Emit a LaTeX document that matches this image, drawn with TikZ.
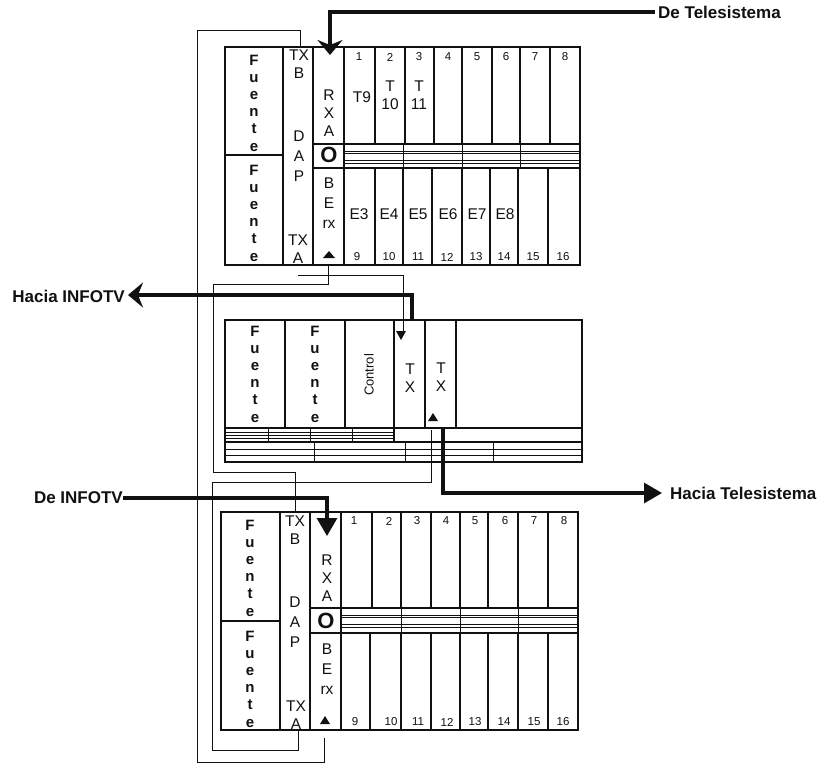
\documentclass[tikz,border=0pt]{standalone}
\usepackage{fontspec}
\setmainfont{Liberation Sans}
\usetikzlibrary{arrows.meta,calc}
\definecolor{ink}{HTML}{111111}
\tikzset{
  heavy/.style={draw=ink,line width=2.6pt},
  medium/.style={draw=ink,line width=1.6pt},
  bandline/.style={draw=ink,line width=.9pt},
  thin line/.style={draw=ink,line width=.8pt},
  feed/.style={draw=ink,line width=3.2pt},
  chevron/.style={-{Stealth[length=15pt,width=25pt,inset=5pt]}},
  solidhead/.style={-{Triangle[length=18pt,width=20pt]}},
  stacked/.style={font=\fontsize{15}{17.2}\selectfont\bfseries,align=center,inner sep=0pt,text=ink},
  lab/.style={font=\fontsize{15.5}{18}\selectfont,align=center,inner sep=0pt,text=ink},
  dapl/.style={font=\fontsize{15.5}{20}\selectfont,align=center,inner sep=0pt,text=ink},
  num/.style={font=\fontsize{11.5}{11.5}\selectfont,inner sep=0pt,text=ink},
  slot/.style={font=\fontsize{15.5}{18}\selectfont,align=center,inner sep=0pt,text=ink},
  outer/.style={font=\fontsize{17}{19}\selectfont\bfseries,inner sep=0pt,text=ink},
}
\newcommand{\fuente}{F\\u\\e\\n\\t\\e}
\begin{document}
\begin{tikzpicture}[x=1pt,y=-1pt]
\useasboundingbox (0,0) rectangle (818,763);
\fill[white] (0,0) rectangle (818,763);

% ---------- top rack
\draw[heavy] (225,47) rectangle (580,265);
\draw[medium] (225,155) -- (283,155);
\foreach \x in {283,313} \draw[heavy] (\x,47) -- (\x,265);
\draw[heavy] (344,47) -- (344,144);
\draw[heavy] (344,168) -- (344,265);
\foreach \x in {375,405,434,462,492,520,550} \draw[heavy] (\x,47) -- (\x,144);
\foreach \x in {375,403,432,462,490,518,548} \draw[heavy] (\x,168) -- (\x,265);
\draw[heavy] (313,144) -- (580,144);
\draw[heavy] (313,168) -- (580,168);
\draw[heavy] (344,144) -- (344,168);
\foreach \y in {151,153,160,163} \draw[bandline] (344,\y) -- (580,\y);
\foreach \x in {403,462,520} \draw[bandline] (\x,144) -- (\x,168);
\node[font=\fontsize{22}{22}\selectfont\bfseries,inner sep=0pt,text=ink] (ta) at (329,155) {O};

\node[stacked] (tf1) at (254,103) {\fuente};
\node[stacked] (tf2) at (254,213) {\fuente};
\node[lab] (ttxb) at (299,64) {TX\\B};
\node[dapl] (tdap) at (299,156) {D\\A\\P};
\node[lab] (ttxa) at (298,249) {TX\\A};
\node[lab] (trxa) at (329,113) {R\\X\\A};
\node[dapl] (tber) at (329,203) {B\\E\\rx};
\foreach \n/\x in {1/359,2/390,3/419,4/448,5/477,6/506,7/535,8/565}
  \node[num] at (\x,57) {\n};
\foreach \n/\x in {9/357,10/389,11/418,12/447,13/476,14/504,15/533,16/563}
  \node[num] at (\x,257) {\n};
\node[slot] (t9) at (362,97) {T9};
\node[slot] (t10) at (390,95) {T\\10};
\node[slot] (t11) at (419,95) {T\\11};
\foreach \t/\x in {E3/359,E4/389,E5/418,E6/448,E7/477,E8/505}
  \node[slot] at (\x,214) {\t};
\fill[ink] (329,251) -- (323,258) -- (335,258) -- cycle;

% ---------- middle rack
\draw[heavy] (225,320) rectangle (582,462);
\draw[heavy] (225,428) -- (582,428);
\foreach \x in {285,345,394,425,456} \draw[heavy] (\x,320) -- (\x,428);
\draw[medium] (394,428) -- (394,442);
\draw[medium] (225,442) -- (582,442);
\foreach \y in {432,435,438} \draw[bandline] (225,\y) -- (394,\y);
\foreach \x in {268,310,352} \draw[bandline] (\x,428) -- (\x,442);
\foreach \y in {449,455} \draw[bandline] (225,\y) -- (582,\y);
\foreach \x in {314,405,493} \draw[bandline] (\x,442) -- (\x,462);
\node[stacked] (mf1) at (255,374) {\fuente};
\node[stacked] (mf2) at (315,374) {\fuente};
\node[rotate=90,font=\fontsize{13}{13}\selectfont,inner sep=0pt,text=ink] (mc) at (369,375) {Control};
\node[lab] (mtx1) at (410,378) {T\\X};
\node[lab] (mtx2) at (441,377) {T\\X};
\fill[ink] (433,413) -- (428,421) -- (438,421) -- cycle;
\fill[ink] (401,340) -- (396,331) -- (406,331) -- cycle;

% ---------- bottom rack
\draw[heavy] (221,512) rectangle (578,730);
\draw[medium] (221,621) -- (280,621);
\foreach \x in {280,310} \draw[heavy] (\x,512) -- (\x,730);
\draw[heavy] (341,512) -- (341,608);
\draw[heavy] (341,633) -- (341,730);
\foreach \x in {372,401,431,460,488,518,548} \draw[heavy] (\x,512) -- (\x,608);
\foreach \x in {370,401,431,460,488,518,548} \draw[heavy] (\x,633) -- (\x,730);
\draw[heavy] (310,608) -- (578,608);
\draw[heavy] (310,633) -- (578,633);
\draw[heavy] (341,608) -- (341,633);
\foreach \y in {615,617,624,627} \draw[bandline] (341,\y) -- (578,\y);
\foreach \x in {401,460,518} \draw[bandline] (\x,608) -- (\x,633);
\node[font=\fontsize{22}{22}\selectfont\bfseries,inner sep=0pt,text=ink] (ba) at (326,621) {O};

\node[stacked] (bf1) at (250,568) {\fuente};
\node[stacked] (bf2) at (250,679) {\fuente};
\node[lab] (btxb) at (295,530) {TX\\B};
\node[dapl] (bdap) at (295,622) {D\\A\\P};
\node[lab] (btxa) at (296,715) {TX\\A};
\node[lab] (brxa) at (327,578) {R\\X\\A};
\node[dapl] (bber) at (327,669) {B\\E\\rx};
\foreach \n/\x in {1/354,2/389,3/417,4/446,5/475,6/505,7/534,8/564}
  \node[num] at (\x,521) {\n};
\foreach \n/\x in {9/355,10/391,11/418,12/447,13/475,14/504,15/534,16/563}
  \node[num] at (\x,722) {\n};
\fill[ink] (325,716) -- (320,724) -- (330,724) -- cycle;

% ---------- thin cross-connections
\coordinate (a1) at (300,47);
\coordinate (a2) at (300,30);
\coordinate (a3) at (197,30);
\coordinate (a4) at (197,762);
\coordinate (a5) at (324,762);
\coordinate (a6) at (324,738);
\draw[thin line] (a1) -- (a2) -- (a3) -- (a4) -- (a5) -- (a6);

\coordinate (b1) at (328,265);
\coordinate (b2) at (328,284);
\coordinate (b3) at (213,284);
\coordinate (b4) at (213,472);
\coordinate (b5) at (295,472);
\coordinate (b6) at (295,512);
\draw[thin line] (b1) -- (b2) -- (b3) -- (b4) -- (b5) -- (b6);

\coordinate (c1) at (298,275);
\coordinate (c2) at (403,275);
\coordinate (c3) at (403,332);
\draw[thin line] (c1) -- (c2) -- (c3);

\coordinate (d1) at (431,430);
\coordinate (d2) at (431,482);
\coordinate (d3) at (212,482);
\coordinate (d4) at (212,750);
\coordinate (d5) at (298,750);
\coordinate (d6) at (298,731);
\draw[thin line] (d1) -- (d2) -- (d3) -- (d4) -- (d5) -- (d6);

% ---------- outer labels and thick feeds
\node[outer,anchor=west] (deTele) at (658,12) {De Telesistema};
\node[outer,anchor=east] (haciaInfo) at (125,296) {Hacia INFOTV};
\node[outer,anchor=east] (deInfo) at (123,498) {De INFOTV};
\node[outer,anchor=west] (haciaTele) at (670,493) {Hacia Telesistema};

\coordinate (e1) at (330,12);
\coordinate (e2) at (330,55);
\draw[feed,chevron] ($(deTele.west)+(-3,0)$) -- (e1) -- (e2);

\coordinate (f1) at (412,295);
\coordinate (f2) at (412,320);
\draw[feed,chevron] (f2) -- (f1) -- ($(haciaInfo.east)+(3,-1)$);

\coordinate (g1) at (327,498);
\coordinate (g2) at (327,536);
\draw[feed,solidhead] (deInfo.east) -- (g1) -- (g2);

\coordinate (h1) at (443,428);
\coordinate (h2) at (443,493);
\draw[feed,solidhead] (h1) -- (h2) -- ($(haciaTele.west)+(-8,0)$);
\end{tikzpicture}
\end{document}
